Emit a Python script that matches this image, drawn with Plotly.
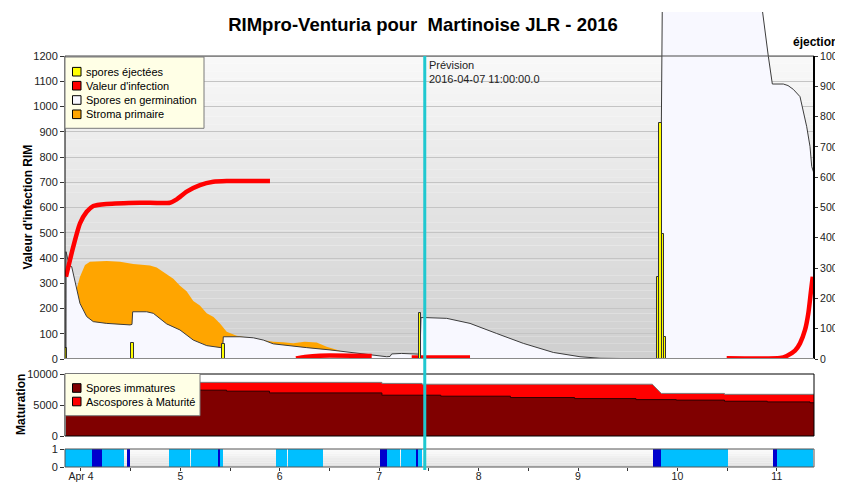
import pandas as pd
import plotly.graph_objects as go

# ---------------- data (hours since 2016-04-04 00:00) ----------------
BASE = pd.Timestamp("2016-04-04 00:00")
X_START_H, X_END_H = -3.86, 176.98
PREVISION = "2016-04-07 11:00"

TITLE = "RIMpro-Venturia pour  Martinoise JLR - 2016"
day_tick_h = [0, 24, 48, 72, 96, 120, 144, 168]
day_tick_labels = ["Apr 4", "5", "6", "7", "8", "9", "10", "11"]

# Valeur d'infection (RIM) - None = gap
infection_h = [-3.62, -1.86, -0.24, 1.38, 2.97, 6.21, 14.25, 21.49, 23.11, 25.52, 28.73, 31.94, 35.18, 45.63, None,
               51.91, 54.08, 57.7, 70.19, None,
               79.85, 93.93, None,
               155.9, 168.8, 170.39, 172.39, 173.6, 174.81, 175.61, 176.19, 176.67]
infection_v = [326, 445, 537, 583, 606, 614, 619, 619, 632, 663, 689, 702, 705, 705, None,
               2, 8, 13, 12, None,
               6, 6, None,
               3, 4, 12, 33, 62, 115, 181, 260, 326]

# Spores en germination
germ_h = [-3.62, -3.6, -2.83, -2.25, -0.24, 1.38, 2.97, 6.21, 11.83, 12.31, 12.48, 15.86, 17.46, 20.69, 23.9,
          27.11, 30.35, 33.97, 34.21, 34.36, 38.39, 41.6, 44.02, 46.43, 49.67, 54.5, 60.12, 68.98, 71.4,
          73.81, 74.61, 75.02, 77.43, 81.05, 81.85, 82.09, 83.06, 88.3, 93.93, 100.37, 106.79, 114.04,
          120.48, 125.31, 133.28, 139.68, 140.4, 140.76, 162.74, 163.7, 165.95, 166.92, 169.57, 170.7,
          171.98, 173.6, 175.22, 176.02, 176.43, 176.98]
germ_v = [0, 425, 368, 366, 220, 168, 148, 141, 135, 137, 187, 187, 181, 139, 115,
          75, 53, 42, 44, 88, 88, 84, 75, 60, 53, 45, 36, 18, 12,
          9, 10, 20, 22, 19, 19, 164, 164, 161, 141, 101, 62, 26,
          9, 3, 0, 0, 1500, 1700, 1700, 1484, 1199, 1089, 1089, 1083,
          1068, 1039, 920, 841, 762, 735]

# Stroma primaire (upper edge, slightly ragged as read)
stroma_h = [-1.04, -0.72, -0.24, 0.97, 2.17, 6.21, 9.42, 12.63, 16.66, 18.28, 20.69, 22.3, 23.9, 25.5, 27.11,
            28.7, 30.35, 32.0, 33.56, 35.18, 37.59, 40.8, 43.22, 46.43, 48.8, 51.26, 54.0, 56.91, 59.32,
            61.74, 62.53]
stroma_v = [278, 300, 326, 372, 385, 388, 385, 376, 370, 362, 335, 318, 290, 268, 230,
            212, 181, 166, 141, 108, 92, 84, 75, 68, 66, 62, 68, 65, 49,
            36, 33]

# Spores ejectees (right axis)
spores_h = [-3.57, 12.43, 34.41, 81.92, 139.3, 139.9, 140.5, 141.05]
spores_v = [35, 52, 48, 151, 272, 780, 412, 72]
SPORE_BAR_H = 0.58

# Maturation
mature_total_h = [-3.62, 72.65, 72.65, 82.33, 82.33, 137.94, 140.1, 155.37, 155.37, 176.98]
mature_total_v = [8650, 8650, 8480, 8480, 8350, 8350, 6870, 6870, 6720, 6720]
immature_h = [-3.62, 29.34, 35.16, 45.51, 72.65, 86.87, 103.68, 119.18, 134.0, 143.73, 155.37, 165.71, 176.02, 176.98]
immature_v = [7400, 7390, 7230, 6950, 6580, 6420, 6200, 6030, 5870, 5790, 5610, 5500, 5360, 5360]

# Wetness strip intervals: class 1 = humide, 2 = tres humide
wet_start = [-3.86, 2.58, 5.0, 11.03, 21.25, 26.49, 33.15, 33.73, 47.08, 49.93, 72.12, 73.93, 76.6, 77.25,
             80.79, 81.44, 138.0, 139.96, 167.0, 168.05]
wet_end = [2.58, 5.0, 10.38, 11.83, 26.32, 33.15, 33.73, 34.21, 49.81, 58.43, 73.93, 76.45, 77.1, 80.79,
           81.44, 82.33, 139.96, 156.14, 168.05, 176.67]
wet_class = [1, 2, 1, 2, 1, 1, 2, 1, 1, 1, 2, 1, 1, 1, 2, 1, 2, 1, 2, 1]

# ---------------- helpers ----------------
def ts(hs):
    return [None if h is None else (BASE + pd.Timedelta(hours=h)).strftime("%Y-%m-%d %H:%M:%S") for h in hs]

# the page body adds an 8px offset; layout is expressed in window pixels
OFF = 8
W, H = 843 - OFF, 482 - OFF
PLOT_L, PLOT_R, PLOT_T, PLOT_B = 65, 814, 12, 467      # window pixels
ML, MR, MT, MB = PLOT_L - OFF, (W + OFF) - PLOT_R, PLOT_T - OFF, (H + OFF) - PLOT_B
PW, PH = PLOT_R - PLOT_L, PLOT_B - PLOT_T

def px(xp):
    return (xp - PLOT_L) / PW

def py(yp):
    return (PLOT_B - yp) / PH

FONT = "Arial, 'Liberation Sans', sans-serif"
MAIN_TOP_PX, MAIN_BOT_PX = 56, 359
Y_TALL = 1200 * (MAIN_BOT_PX - PLOT_T) / (MAIN_BOT_PX - MAIN_TOP_PX)
Y2_TALL = 1000 * (MAIN_BOT_PX - PLOT_T) / (MAIN_BOT_PX - MAIN_TOP_PX)

fig = go.Figure()

# stroma (orange) then germination (white) on top of it
fig.add_trace(go.Scatter(x=ts(stroma_h), y=stroma_v, mode="lines", fill="tozeroy",
                         fillcolor="#ffa500", line=dict(width=0, color="#ffa500"),
                         name="Stroma primaire", showlegend=False, yaxis="y"))
fig.add_trace(go.Scatter(x=ts(germ_h), y=germ_v, mode="lines", fill="tozeroy",
                         fillcolor="#f8f8ff", line=dict(width=1, color="#3c3c3c"),
                         name="Spores en germination", showlegend=False, yaxis="y"))
fig.add_trace(go.Scatter(x=ts(infection_h), y=infection_v, mode="lines", connectgaps=False,
                         line=dict(width=4.5, color="#ff0000", shape="spline", smoothing=0.6),
                         name="Valeur d'infection", showlegend=False, yaxis="y"))
fig.add_trace(go.Bar(x=ts(spores_h), y=spores_v, width=[SPORE_BAR_H * 3600000] * len(spores_h),
                     marker=dict(color="#ffff00", line=dict(color="#333333", width=1)),
                     name="spores éjectées", showlegend=False, yaxis="y2"))

# maturation
fig.add_trace(go.Scatter(x=ts(mature_total_h), y=mature_total_v, mode="lines", fill="tozeroy",
                         fillcolor="#ff0000", line=dict(width=1, color="#7a7a7a"),
                         name="Ascospores à Maturité", showlegend=False, yaxis="y3"))
fig.add_trace(go.Scatter(x=ts(immature_h), y=immature_v, mode="lines", fill="tozeroy",
                         fillcolor="#800000", line=dict(width=1, color="#2a0000", shape="hv"),
                         name="Spores immatures", showlegend=False, yaxis="y3"))

# wetness strip
wet_mid = [(s + e) / 2 for s, e in zip(wet_start, wet_end)]
wet_w = [(e - s) * 3600000 for s, e in zip(wet_start, wet_end)]
wet_colors = ["#00bfff" if c == 1 else "#0000cd" for c in wet_class]
fig.add_trace(go.Bar(x=ts(wet_mid), y=[1] * len(wet_mid), width=wet_w, base=0,
                     marker=dict(color=wet_colors, line=dict(width=0)),
                     showlegend=False, yaxis="y4"))

shapes = []
# main gradient background
NB = 40
for i in range(NB):
    frac = i / (NB - 1)
    c = int(round(207 + (248 - 207) * frac))
    shapes.append(dict(type="rect", xref="x domain", yref="y", x0=0, x1=1,
                       y0=1200 * i / NB, y1=1200 * (i + 1) / NB, layer="below",
                       fillcolor=f"rgb({c},{c},{c})", line=dict(width=0)))
# strip gradient background
NS = 8
for i in range(NS):
    frac = i / (NS - 1)
    c = int(round(226 + (250 - 226) * frac))
    shapes.append(dict(type="rect", xref="x domain", yref="y4 domain", x0=0, x1=1,
                       y0=i / NS, y1=(i + 1) / NS, layer="below",
                       fillcolor=f"rgb({c},{c},{c})", line=dict(width=0)))
# frames
shapes += [
    dict(type="line", xref="x domain", yref="y", x0=0, x1=1, y0=1200, y1=1200, layer="above",
         line=dict(color="#4a4a4a", width=1)),
    dict(type="line", xref="x domain", yref="y", x0=0, x1=0, y0=0, y1=1200, layer="above",
         line=dict(color="#000000", width=1)),
    dict(type="line", xref="x domain", yref="y", x0=1, x1=1, y0=0, y1=1200, layer="above",
         line=dict(color="#000000", width=2)),
    dict(type="line", xref="x domain", yref="y", x0=0, x1=1, y0=0, y1=0, layer="above",
         line=dict(color="#8a8a8a", width=2)),
    dict(type="rect", xref="x domain", yref="y3 domain", x0=0, x1=1, y0=0, y1=1, layer="above",
         line=dict(color="#000000", width=1)),
    dict(type="rect", xref="x domain", yref="y4 domain", x0=0, x1=1, y0=0, y1=1, layer="above",
         line=dict(color="#555555", width=1)),
    dict(type="line", xref="x", yref="paper", x0=PREVISION, x1=PREVISION, y0=py(470), y1=py(56),
         layer="above", line=dict(color="#20c8d0", width=3)),
]

annotations = [
    dict(text="Prévision<br>2016-04-07 11:00:00.0", x=PREVISION, xref="x", y=py(57), yref="paper",
         xanchor="left", yanchor="top", xshift=2, showarrow=False, align="left",
         font=dict(size=11, color="#222222", family=FONT)),
    dict(text="<b>Valeur d'infection RIM</b>", x=px(27), y=py(207.5), xref="paper", yref="paper",
         xanchor="center", yanchor="middle",
         textangle=-90, showarrow=False, font=dict(size=12, color="#000000", family=FONT)),
    dict(text="<b>Maturation</b>", x=px(21), y=py(405), xref="paper", yref="paper",
         xanchor="center", yanchor="middle",
         textangle=-90, showarrow=False, font=dict(size=12, color="#000000", family=FONT)),
    dict(text="<b>éjection</b>", x=px(815), y=py(42.5), xref="paper", yref="paper",
         xanchor="center", yanchor="middle",
         showarrow=False, font=dict(size=12, color="#000000", family=FONT)),
]

# legends (drawn)
def legend_box(x0p, x1p, y0p, y1p, items):
    shapes.append(dict(type="rect", xref="paper", yref="paper", x0=px(x0p), x1=px(x1p),
                       y0=py(y1p), y1=py(y0p), layer="above", fillcolor="#ffffe6",
                       line=dict(color="#7a7a7a", width=1)))
    for label, color, yc in items:
        shapes.append(dict(type="rect", xref="paper", yref="paper", x0=px(72.5), x1=px(81),
                           y0=py(yc + 4.3), y1=py(yc - 4.3), layer="above", fillcolor=color,
                           line=dict(color="#000000", width=1)))
        annotations.append(dict(text=label, x=px(84), y=py(yc), xref="paper", yref="paper",
                                xanchor="left", yanchor="middle", showarrow=False,
                                font=dict(size=11, color="#000000", family=FONT)))

legend_box(65, 204, 57, 128.3, [("spores éjectées", "#ffff00", 71.7),
                                ("Valeur d'infection", "#ff0000", 85.7),
                                ("Spores en germination", "#f8f8ff", 100),
                                ("Stroma primaire", "#ffa500", 114.3)])
legend_box(65, 200, 373.5, 415.7, [("Spores immatures", "#800000", 388),
                                   ("Ascospores à Maturité", "#ff0000", 401.5)])

tickfont = dict(size=11, color="#222222", family=FONT)
rtickfont = dict(size=10.5, color="#222222", family=FONT)
xtickfont = dict(size=10.5, color="#222222", family=FONT)
fig.update_layout(
    width=W, height=H,
    margin=dict(l=ML, r=MR, t=MT, b=MB, autoexpand=False),
    paper_bgcolor="#ffffff", plot_bgcolor="#ffffff",
    barmode="overlay", bargap=0,
    title=dict(text=TITLE, x=(423 - OFF) / W, xanchor="center", y=1 - (25 - OFF) / H, yanchor="middle",
               yref="container", xref="container",
               font=dict(size=18.5, color="#000000", family=FONT, weight="bold")),
    font=dict(family=FONT),
    xaxis=dict(type="date", range=ts([X_START_H, X_END_H]), anchor="y4", automargin=False,
               tickvals=ts(day_tick_h), ticktext=day_tick_labels, ticks="outside", ticklen=3,
               ticklabelstandoff=-4,
               tickcolor="#333333", tickfont=xtickfont, showgrid=False, showline=False, zeroline=False,
               minor=dict(dtick=12 * 3600000, tick0=ts([0])[0], ticks="outside", ticklen=3,
                          tickcolor="#333333", showgrid=False)),
    yaxis=dict(domain=[py(MAIN_BOT_PX), 1], range=[0, Y_TALL], tickvals=list(range(0, 1300, 100)),
               automargin=False, tickformat="d",
               ticks="outside", ticklen=4, tickcolor="#333333", tickfont=tickfont,
               showgrid=True, gridcolor="#c4c4c4", gridwidth=1, zeroline=False, showline=False),
    yaxis2=dict(overlaying="y", side="right", range=[0, Y2_TALL], tickvals=list(range(0, 1100, 100)),
                automargin=False, tickformat="d",
                ticks="outside", ticklen=3, tickcolor="#333333", tickfont=rtickfont,
                showgrid=False, zeroline=False, showline=False),
    yaxis3=dict(domain=[py(436), py(374)], range=[0, 10000], tickvals=[0, 5000, 10000],
                automargin=False, tickformat="d",
                ticks="outside", ticklen=4, tickcolor="#333333", tickfont=tickfont,
                showgrid=False, zeroline=False, showline=False),
    yaxis4=dict(domain=[0, py(449)], range=[0, 1], tickvals=[0, 1],
                automargin=False, tickformat="d",
                ticks="outside", ticklen=4, tickcolor="#333333", tickfont=tickfont,
                showgrid=False, zeroline=False, showline=False),
    shapes=shapes,
    annotations=annotations,
    showlegend=False,
)

fig.write_html("out.html")
